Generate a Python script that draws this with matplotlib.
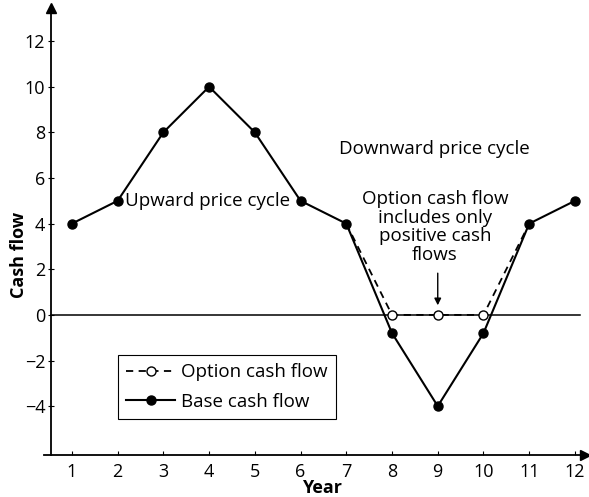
import numpy as np
import matplotlib.pyplot as plt

plt.rcParams['font.family'] = ['Open Sans', 'DejaVu Sans']

years = [1, 2, 3, 4, 5, 6, 7, 8, 9, 10, 11, 12]
base_cash_flow = [4, 5, 8, 10, 8, 5, 4, -0.8, -4, -0.8, 4, 5]

# option only keeps the positive part of the downturn
option_years = [7, 8, 9, 10, 11]
option_cash_flow = [4, 0, 0, 0, 4]

fs = 13

fig = plt.figure(figsize=(5.89, 4.97), dpi=100)
ax = fig.add_axes([44 / 589, 1 - 455 / 497, (585 - 44) / 589, (455 - 8) / 497])

ax.set_xlim(0.39, 12.22)
ax.set_ylim(-6.14, 13.45)

# zero line
ax.plot([0.54, 12.1], [0, 0], color='black', lw=1.1, zorder=1)

ax.plot(option_years, option_cash_flow, color='black', ls=(0, (4, 3)), lw=1.3,
        marker='o', markersize=6.5, markerfacecolor='white', markeredgecolor='black',
        markeredgewidth=1.0, markevery=[1, 2, 3], label='Option cash flow', zorder=3)
ax.plot(years, base_cash_flow, color='black', lw=1.5, marker='o', markersize=6.5,
        label='Base cash flow', zorder=2)

# axes with arrow heads
for s in ['top', 'right']:
    ax.spines[s].set_visible(False)
ax.spines['left'].set_position(('data', 0.54))
ax.spines['left'].set_linewidth(1.3)
ax.spines['bottom'].set_linewidth(1.3)
ax.plot(1, 0, '>k', markersize=7, transform=ax.transAxes, clip_on=False)
ax.plot(0.54, 1, '^k', markersize=7, transform=ax.get_xaxis_transform(), clip_on=False)

ax.set_xticks(years)
ax.set_yticks(np.arange(-4, 13, 2))
ax.set_yticklabels([str(v).replace('-', '\u2212') for v in range(-4, 13, 2)])
ax.tick_params(axis='x', direction='in', length=3, width=0.8, labelsize=fs, pad=6)
ax.tick_params(axis='y', direction='inout', length=4, width=0.8, labelsize=fs, pad=2)

ax.set_xlabel('Year', fontsize=fs, fontweight='bold')
ax.set_ylabel('Cash flow', fontsize=fs, fontweight='bold')
ax.xaxis.set_label_coords((322 - 44) / 541, -0.054)
ax.yaxis.set_label_coords(-0.03, 0.447)

ax.text(3.97, 5.0, 'Upward price cycle', fontsize=fs + 0.5, ha='center', va='center')
ax.text(8.92, 7.25, 'Downward price cycle', fontsize=fs + 0.5, ha='center', va='center')
ax.text(8.94, 3.85, 'Option cash flow\nincludes only\npositive cash\nflows', fontsize=fs + 0.5,
        ha='center', va='center', linespacing=1.05)
ax.annotate('', xy=(9, 0.3), xytext=(9, 1.95),
            arrowprops=dict(arrowstyle='-|>', color='black', lw=1.0, mutation_scale=10))

leg = ax.legend(loc='upper left', bbox_to_anchor=(118 / 589, 1 - 355 / 497),
                bbox_transform=fig.transFigure, borderaxespad=0, fontsize=fs + 0.5,
                fancybox=False, edgecolor='black', framealpha=1, handlelength=2.6,
                handletextpad=0.3, borderpad=0.45, labelspacing=0.6)
leg.get_frame().set_linewidth(0.8)

fig.savefig('out.png', dpi=100)
